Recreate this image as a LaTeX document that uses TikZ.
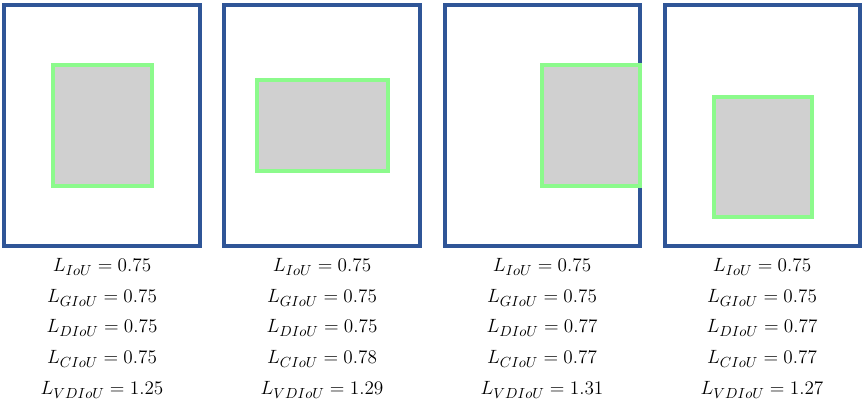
\documentclass[tikz,border=0pt]{standalone}
\definecolor{frameblue}{RGB}{47,85,151}
\definecolor{boxgreen}{RGB}{140,250,140}
\definecolor{boxgray}{RGB}{208,208,208}
\begin{document}
\begin{tikzpicture}[x=0.75pt,y=-0.75pt,
  frame/.style={draw=frameblue,line width=2.3pt},
  pred/.style={draw=boxgreen,fill=boxgray,line width=2.3pt},
  loss/.style={font=\fontsize{15.8}{18}\selectfont,inner sep=0pt}]
  \useasboundingbox (0,0) rectangle (865,404);
  % outer boxes
  \draw[frame] (4,5) rectangle (200,246);
  \draw[frame] (224,5) rectangle (420,246);
  \draw[frame] (445,5) rectangle (640,246);
  \draw[frame] (665,5) rectangle (860,246);
  % predicted boxes
  \draw[pred] (53,65) rectangle (152,186);
  \draw[pred] (257,80) rectangle (388,171);
  \draw[pred] (542,65) rectangle (640,186);
  \draw[pred] (714,97) rectangle (812,217);
  % losses, first case
  \node[loss] (iou1) at (102,267) {$L_{IoU} = 0.75$};
  \node[loss] (giou1) at (102,298) {$L_{GIoU} = 0.75$};
  \node[loss] (diou1) at (102,328) {$L_{DIoU} = 0.75$};
  \node[loss] (ciou1) at (102,359) {$L_{CIoU} = 0.75$};
  \node[loss] (vdiou1) at (102,390) {$L_{VDIoU} = 1.25$};
  % second case
  \node[loss] (iou2) at (322,267) {$L_{IoU} = 0.75$};
  \node[loss] (giou2) at (322,298) {$L_{GIoU} = 0.75$};
  \node[loss] (diou2) at (322,328) {$L_{DIoU} = 0.75$};
  \node[loss] (ciou2) at (322,359) {$L_{CIoU} = 0.78$};
  \node[loss] (vdiou2) at (322,390) {$L_{VDIoU} = 1.29$};
  % third case
  \node[loss] (iou3) at (542,267) {$L_{IoU} = 0.75$};
  \node[loss] (giou3) at (542,298) {$L_{GIoU} = 0.75$};
  \node[loss] (diou3) at (542,328) {$L_{DIoU} = 0.77$};
  \node[loss] (ciou3) at (542,359) {$L_{CIoU} = 0.77$};
  \node[loss] (vdiou3) at (542,390) {$L_{VDIoU} = 1.31$};
  % fourth case
  \node[loss] (iou4) at (762,267) {$L_{IoU} = 0.75$};
  \node[loss] (giou4) at (762,298) {$L_{GIoU} = 0.75$};
  \node[loss] (diou4) at (762,328) {$L_{DIoU} = 0.77$};
  \node[loss] (ciou4) at (762,359) {$L_{CIoU} = 0.77$};
  \node[loss] (vdiou4) at (762,390) {$L_{VDIoU} = 1.27$};
\end{tikzpicture}
\end{document}
